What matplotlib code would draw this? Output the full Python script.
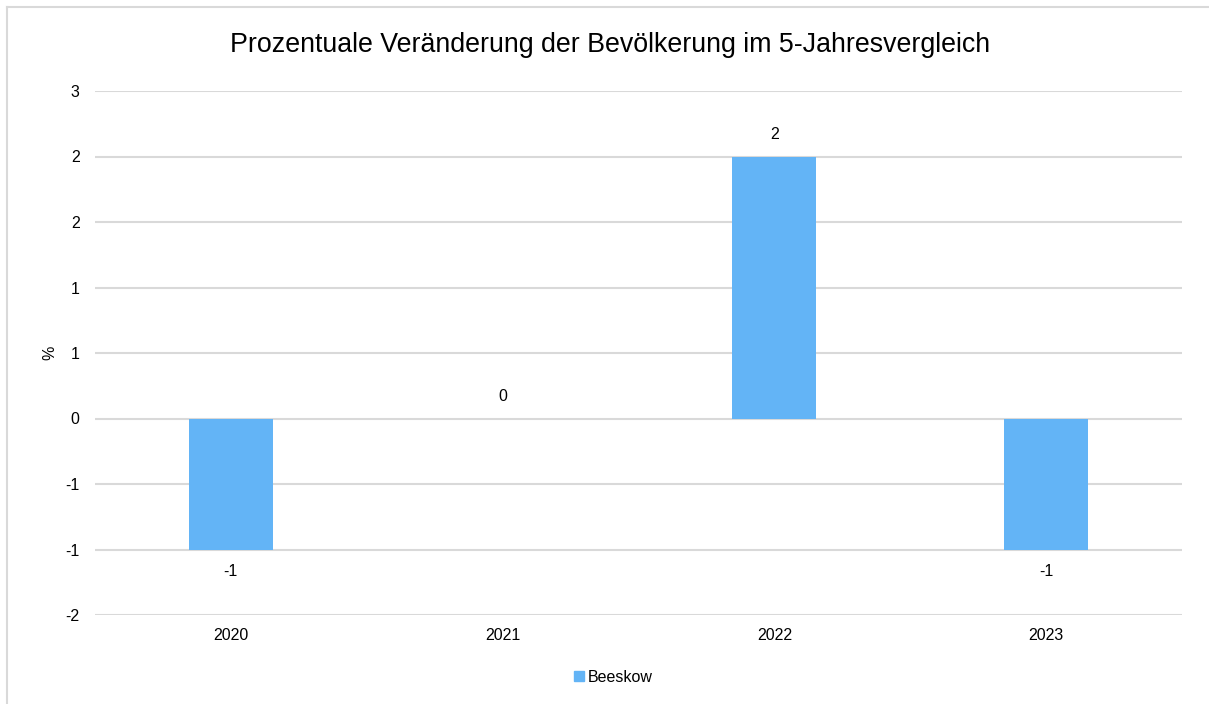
import math
import matplotlib
matplotlib.use("Agg")
import matplotlib.pyplot as plt
from matplotlib.ticker import FuncFormatter, MultipleLocator
from matplotlib.lines import Line2D

plt.rcParams['font.family'] = ['Liberation Sans', 'DejaVu Sans']

title = "Prozentuale Veränderung der Bevölkerung im 5-Jahresvergleich"
years = ["2020", "2021", "2022", "2023"]
values = [-1.0, 0.0, 2.0, -1.0]
series_name = "Beeskow"
y_label = "%"

bar_color = "#63B4F6"
grid_color = "#D9D9D9"
fs = 11.5

fig = plt.figure(figsize=(12.09, 7.04), dpi=100)
ax = fig.add_axes([95/1209, 89/704, (1182-95)/1209, (615-91)/704])

x = list(range(len(years)))
ax.bar(x, values, width=0.31, color=bar_color, zorder=3)

ax.set_xlim(-0.5, len(years) - 0.5)
ax.set_ylim(-1.5, 2.5)
ax.yaxis.set_major_locator(MultipleLocator(0.5))

def excel_round(v, pos=None):
    r = math.floor(abs(v) + 0.5 + 1e-9)
    r = int(math.copysign(r, v)) if r != 0 else 0
    return str(r)

ax.yaxis.set_major_formatter(FuncFormatter(excel_round))
ax.set_xticks(x)
ax.set_xticklabels(years)
ax.grid(axis='y', color=grid_color, linewidth=1.5, zorder=0)
ax.tick_params(axis='both', length=0, labelsize=fs, colors='#000000')
ax.tick_params(axis='y', pad=11)
ax.tick_params(axis='x', pad=9)
for s in ax.spines.values():
    s.set_visible(False)

for xi, v in zip(x, values):
    off = 16 if v >= 0 else -16
    ax.annotate(excel_round(v), (xi, v), xytext=(0, off), textcoords='offset points',
                ha='center', va='center', fontsize=fs)

fig.text(50/1209, 1 - 353/704, y_label, rotation=90, ha='center', va='center', fontsize=fs)

fig.text(610/1209, 1 - 45/704, title, ha='center', va='center', fontsize=19.3)

handle = Line2D([], [], marker='s', linestyle='none', markersize=7,
                markerfacecolor=bar_color, markeredgecolor=bar_color)
fig.legend([handle], [series_name], loc='center', bbox_to_anchor=(612/1209, 1 - 677/704),
           frameon=False, fontsize=fs, handletextpad=0.1, handlelength=0.9)

# partial border (top and left visible)
fig.add_artist(Line2D([7/1209, 1], [1 - 7/704, 1 - 7/704], color=grid_color, linewidth=1.5,
                      transform=fig.transFigure))
fig.add_artist(Line2D([7/1209, 7/1209], [0, 1 - 7/704], color=grid_color, linewidth=1.5,
                      transform=fig.transFigure))

fig.savefig("out.png", dpi=100, facecolor='white')
